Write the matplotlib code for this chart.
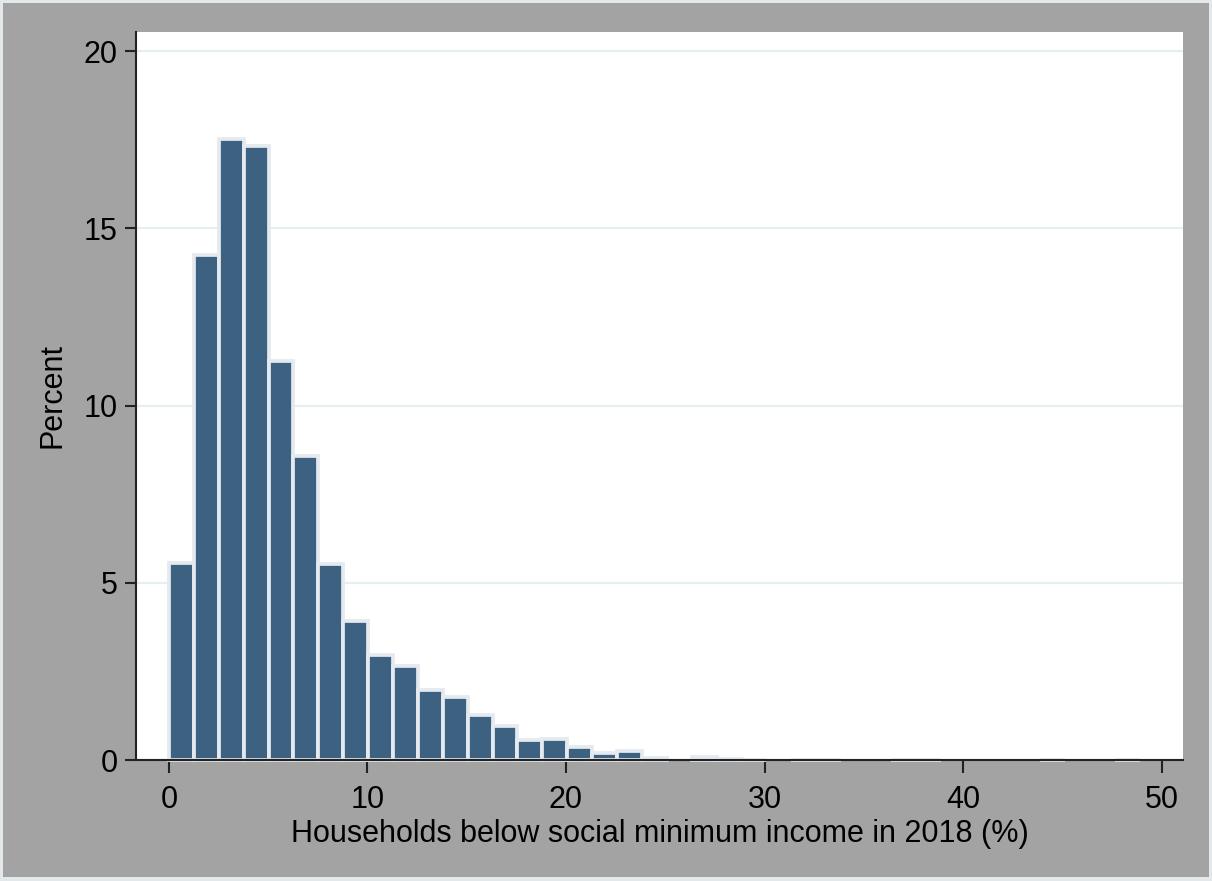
import numpy as np
import matplotlib.pyplot as plt
from matplotlib.patches import Rectangle

plt.rcParams['font.family'] = ['Liberation Sans', 'DejaVu Sans']

# histogram bins: start and width of each bin, share of households per bin (%)
bin_start = 0.0
bin_width = 1.254
percent = [5.55, 14.26, 17.51, 17.33, 11.27, 8.58, 5.53, 3.93, 2.96, 2.64,
           1.97, 1.79, 1.28, 0.96, 0.56, 0.60, 0.37, 0.19, 0.24, 0.07,
           0.0, 0.08, 0.03, 0.01, 0.0, 0.01, 0.01, 0.0, 0.0, 0.01,
           0.01, 0.0, 0.0, 0.0, 0.0, 0.01, 0.0, 0.0, 0.01]
xticks = [0, 10, 20, 30, 40, 50]
yticks = [0, 5, 10, 15, 20]

fig = plt.figure(figsize=(12.12, 8.81), dpi=100, facecolor='#e3e8eb')
fig.patches.append(Rectangle((3 / 1212, 4 / 881), 1206 / 1212, 874 / 881,
                             transform=fig.transFigure, facecolor='#a3a3a3',
                             edgecolor='none', zorder=-10))

ax = fig.add_axes([136 / 1212, 1 - 760 / 881, 1047 / 1212, 728 / 881])
ax.set_facecolor('white')

pct = np.array(percent)
left = bin_start + bin_width * np.arange(len(pct))
keep = pct > 0
ax.bar(left[keep], pct[keep], width=bin_width, align='edge',
       color='#3d6180', edgecolor='#e4eaef', linewidth=2.7,
       clip_on=False, zorder=2)

ax.set_xlim(-1.66, 51.08)
ax.set_ylim(0, 20.54)
ax.set_xticks(xticks)
ax.set_yticks(yticks)
ax.yaxis.grid(True, color='#e6eef0', linewidth=1.6, zorder=0)
ax.set_axisbelow(True)

for side in ['top', 'right']:
    ax.spines[side].set_visible(False)
for side in ['left', 'bottom']:
    ax.spines[side].set_linewidth(1.5)
    ax.spines[side].set_color('#222222')
    ax.spines[side].set_zorder(3)

ax.tick_params(axis='x', length=9, width=1.5, pad=9, labelsize=22,
               color='#222222')
ax.tick_params(axis='y', length=8, width=1.5, pad=5, labelsize=22,
               color='#222222')

ax.set_xlabel('Households below social minimum income in 2018 (%)',
              fontsize=22, labelpad=3)
ax.set_ylabel('Percent', fontsize=22, labelpad=12)

fig.savefig('out.png', dpi=100, facecolor=fig.get_facecolor())
